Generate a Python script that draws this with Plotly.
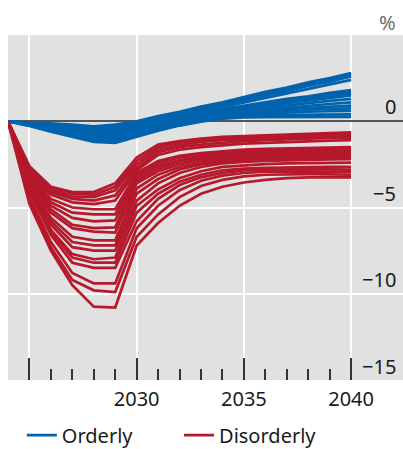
import plotly.graph_objects as go

years = list(range(2024, 2041))

orderly = [
    [0, -0.05, -0.12, -0.2, -0.3, -0.2, 0.0, 0.3, 0.55, 0.85, 1.1, 1.4, 1.7, 1.95, 2.25, 2.5, 2.8],
    [0, -0.07, -0.15, -0.25, -0.35, -0.3, -0.1, 0.2, 0.45, 0.75, 1.0, 1.3, 1.6, 1.85, 2.15, 2.4, 2.7],
    [0, -0.08, -0.18, -0.3, -0.42, -0.4, -0.15, 0.15, 0.4, 0.65, 0.95, 1.2, 1.5, 1.75, 2.05, 2.3, 2.6],
    [0, -0.1, -0.22, -0.36, -0.5, -0.48, -0.22, 0.08, 0.33, 0.58, 0.85, 1.1, 1.38, 1.62, 1.9, 2.15, 2.4],
    [0, -0.12, -0.27, -0.42, -0.57, -0.56, -0.3, 0.0, 0.25, 0.48, 0.7, 0.9, 1.1, 1.3, 1.45, 1.65, 1.8],
    [0, -0.13, -0.3, -0.47, -0.63, -0.63, -0.36, -0.05, 0.2, 0.42, 0.63, 0.83, 1.02, 1.2, 1.37, 1.55, 1.7],
    [0, -0.15, -0.33, -0.52, -0.7, -0.7, -0.42, -0.1, 0.15, 0.37, 0.57, 0.77, 0.95, 1.12, 1.28, 1.45, 1.6],
    [0, -0.16, -0.36, -0.57, -0.76, -0.77, -0.48, -0.15, 0.1, 0.32, 0.52, 0.72, 0.88, 1.05, 1.2, 1.35, 1.5],
    [0, -0.18, -0.4, -0.62, -0.83, -0.84, -0.54, -0.2, 0.05, 0.27, 0.46, 0.63, 0.78, 0.92, 1.05, 1.18, 1.3],
    [0, -0.19, -0.43, -0.67, -0.9, -0.91, -0.6, -0.25, 0.0, 0.22, 0.4, 0.55, 0.68, 0.8, 0.9, 1.0, 1.1],
    [0, -0.2, -0.46, -0.72, -0.96, -0.98, -0.66, -0.3, -0.05, 0.17, 0.34, 0.48, 0.6, 0.7, 0.77, 0.84, 0.9],
    [0, -0.22, -0.49, -0.77, -1.02, -1.05, -0.72, -0.36, -0.1, 0.12, 0.3, 0.43, 0.53, 0.61, 0.67, 0.72, 0.75],
    [0, -0.23, -0.52, -0.82, -1.08, -1.12, -0.78, -0.42, -0.15, 0.07, 0.24, 0.37, 0.45, 0.51, 0.55, 0.58, 0.6],
    [0, -0.25, -0.56, -0.87, -1.14, -1.18, -0.84, -0.48, -0.2, 0.02, 0.18, 0.28, 0.34, 0.37, 0.39, 0.4, 0.4],
    [0, -0.27, -0.6, -0.92, -1.2, -1.25, -0.9, -0.55, -0.25, -0.02, 0.15, 0.22, 0.24, 0.25, 0.25, 0.25, 0.25],
]

disorderly = [
    [0, -2.6, -3.8, -4.1, -4.1, -3.6, -2.1, -1.35, -1.15, -1.0, -0.9, -0.85, -0.8, -0.75, -0.72, -0.68, -0.65],
    [0, -2.7, -3.9, -4.2, -4.25, -3.8, -2.3, -1.5, -1.25, -1.1, -1.0, -0.95, -0.9, -0.85, -0.8, -0.77, -0.75],
    [0, -2.8, -4.0, -4.35, -4.4, -4.0, -2.5, -1.65, -1.4, -1.2, -1.1, -1.05, -1.0, -0.95, -0.9, -0.87, -0.85],
    [0, -2.9, -4.1, -4.5, -4.6, -4.3, -2.7, -1.8, -1.5, -1.35, -1.25, -1.15, -1.1, -1.05, -1.0, -0.97, -0.95],
    [0, -3.0, -4.25, -4.7, -4.8, -4.6, -2.85, -1.95, -1.65, -1.5, -1.4, -1.3, -1.25, -1.2, -1.15, -1.12, -1.1],
    [0, -3.1, -4.5, -5.0, -5.1, -5.1, -3.0, -2.3, -2.0, -1.85, -1.75, -1.65, -1.6, -1.57, -1.55, -1.52, -1.5],
    [0, -3.2, -4.7, -5.3, -5.4, -5.4, -3.15, -2.45, -2.1, -1.95, -1.85, -1.75, -1.7, -1.67, -1.64, -1.62, -1.6],
    [0, -3.3, -4.9, -5.6, -5.8, -5.75, -3.3, -2.6, -2.25, -2.05, -1.95, -1.85, -1.8, -1.76, -1.73, -1.71, -1.7],
    [0, -3.4, -5.1, -6.0, -6.2, -6.15, -3.45, -2.75, -2.35, -2.15, -2.05, -1.97, -1.9, -1.86, -1.83, -1.81, -1.8],
    [0, -3.5, -5.3, -6.2, -6.4, -6.45, -3.6, -2.9, -2.5, -2.25, -2.15, -2.07, -2.0, -1.96, -1.93, -1.91, -1.9],
    [0, -3.6, -5.6, -6.7, -6.9, -6.9, -3.9, -3.1, -2.65, -2.4, -2.25, -2.17, -2.1, -2.06, -2.03, -2.01, -2.0],
    [0, -3.7, -5.8, -7.0, -7.2, -7.2, -4.2, -3.35, -2.8, -2.5, -2.35, -2.25, -2.2, -2.16, -2.13, -2.11, -2.1],
    [0, -3.8, -6.0, -7.3, -7.5, -7.5, -4.6, -3.6, -3.0, -2.65, -2.45, -2.35, -2.3, -2.26, -2.23, -2.21, -2.2],
    [0, -3.9, -6.3, -7.7, -8.0, -7.9, -4.9, -3.95, -3.3, -2.9, -2.65, -2.55, -2.48, -2.44, -2.42, -2.41, -2.4],
    [0, -4.0, -6.4, -7.9, -8.2, -8.2, -5.3, -4.2, -3.5, -3.1, -2.85, -2.75, -2.7, -2.67, -2.65, -2.65, -2.65],
    [0, -4.1, -6.6, -8.2, -8.5, -8.5, -5.8, -4.5, -3.7, -3.25, -3.0, -2.85, -2.8, -2.78, -2.78, -2.79, -2.8],
    [0, -4.4, -7.0, -8.8, -9.4, -9.4, -6.2, -4.9, -4.0, -3.45, -3.15, -3.0, -2.92, -2.9, -2.9, -2.92, -2.95],
    [0, -4.6, -7.3, -9.2, -9.8, -9.9, -6.7, -5.4, -4.4, -3.75, -3.4, -3.2, -3.1, -3.07, -3.07, -3.08, -3.1],
    [0, -4.8, -7.5, -9.5, -10.75, -10.8, -7.2, -5.9, -4.9, -4.2, -3.8, -3.55, -3.4, -3.3, -3.25, -3.24, -3.25],
]

x_major = [2025, 2030, 2035, 2040]
x_major_labels = ["", "2030", "2035", "2040"]
x_minor = [y for y in range(2024, 2041) if y not in x_major]
y_ticks = [0, -5, -10, -15]
y_labels = ["0", "−5", "−10", "−15"]

BLUE = "#0063ae"
RED = "#b5192b"
FONT = "Noto Sans"

fig = go.Figure()
for i, s in enumerate(orderly):
    fig.add_trace(go.Scatter(x=years, y=s, mode="lines", line=dict(color=BLUE, width=2.7),
                             name="Orderly", legend="legend", showlegend=(i == 0), hoverinfo="skip"))
for i, s in enumerate(disorderly):
    fig.add_trace(go.Scatter(x=years, y=s, mode="lines", line=dict(color=RED, width=2.7),
                             name="Disorderly", legend="legend2", showlegend=(i == 0), hoverinfo="skip"))

annotations = [dict(text=lab, xref="paper", yref="y", x=1, y=v, xanchor="right", yanchor="bottom",
                    xshift=-5, yshift=-2 if v == -15 else -1, showarrow=False,
                    font=dict(size=20, color="#1a1a1a"))
               for v, lab in zip(y_ticks, y_labels)]
annotations.append(dict(text="%", xref="paper", yref="paper", x=1, y=1.035, xanchor="right",
                        yanchor="middle", xshift=-5, showarrow=False,
                        font=dict(size=20, color="#6e6e6e")))

leg_common = dict(orientation="h", xanchor="left", y=-0.16, yanchor="middle",
                  font=dict(size=20), bgcolor="rgba(0,0,0,0)")

fig.update_layout(
    width=403, height=449,
    margin=dict(l=8, r=0, t=35, b=69, autoexpand=False),
    paper_bgcolor="white", plot_bgcolor="#e1e1e1",
    font=dict(family=FONT, size=20, color="#1a1a1a"),
    showlegend=True,
    legend=dict(x=0.035, **leg_common),
    legend2=dict(x=0.433, **leg_common),
    xaxis=dict(range=[2024, 2042.42], tickmode="array", tickvals=x_major, ticktext=x_major_labels,
               ticks="inside", ticklen=22, tickwidth=1.5, tickcolor="#333", automargin=False,
               ticklabelstandoff=5,
               showgrid=True, gridcolor="white", gridwidth=1.5, zeroline=False, showline=False,
               minor=dict(tickmode="array", tickvals=x_minor, ticks="inside", ticklen=11,
                          tickwidth=1.5, tickcolor="#333", showgrid=False),
               tickfont=dict(size=20)),
    yaxis=dict(range=[-15, 5], side="right", tickmode="array", tickvals=y_ticks,
               showticklabels=False, ticks="", automargin=False,
               showgrid=True, gridcolor="white", gridwidth=1.5,
               zeroline=True, zerolinecolor="#555", zerolinewidth=2, showline=False),
    annotations=annotations,
)

fig.write_html("out.html", config={"displayModeBar": False},
               post_script="document.body.style.margin='0';document.body.style.overflow='hidden';")
